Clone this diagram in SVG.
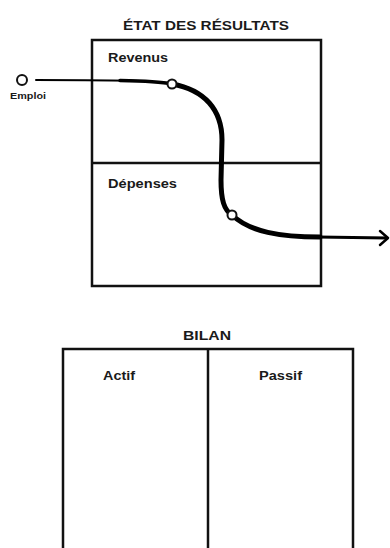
<svg xmlns="http://www.w3.org/2000/svg" width="390" height="548" viewBox="0 0 390 548">
<style>
.box{fill:none;stroke:#111;stroke-width:2.5}
.t{font-family:"Liberation Sans",Arial,sans-serif;font-weight:bold;fill:#1a1a1a}
.flow{fill:none;stroke:#000;stroke-linecap:round;stroke-linejoin:round}
.pt{fill:#fff;stroke:#111;stroke-width:2}
</style>
<rect width="390" height="548" fill="#fff"/>
<g id="etat">
<text class="t" x="206" y="30" font-size="12.5" text-anchor="middle" textLength="166" lengthAdjust="spacingAndGlyphs">ÉTAT DES RÉSULTATS</text>
<rect class="box" x="92" y="40" width="229" height="246"/>
<line class="box" x1="92" y1="163" x2="321" y2="163"/>
</g>
<g id="revenus"><text class="t" x="108" y="62" font-size="12" textLength="60" lengthAdjust="spacingAndGlyphs">Revenus</text></g>
<g id="depenses"><text class="t" x="108" y="188" font-size="12" textLength="69" lengthAdjust="spacingAndGlyphs">Dépenses</text></g>
<g id="bilan">
<text class="t" x="207" y="340" font-size="12.5" text-anchor="middle" textLength="48" lengthAdjust="spacingAndGlyphs">BILAN</text>
<polyline class="box" points="63,548 63,349 353,349 353,548"/>
<line class="box" x1="208" y1="349" x2="208" y2="548"/>
</g>
<g id="actif"><text class="t" x="103" y="380" font-size="12" textLength="32" lengthAdjust="spacingAndGlyphs">Actif</text></g>
<g id="passif"><text class="t" x="259" y="380" font-size="12" textLength="43" lengthAdjust="spacingAndGlyphs">Passif</text></g>
<g id="connectors">
<path class="flow" stroke-width="2" d="M36,80 C 70,80 110,80 140,81"/>
<path class="flow" stroke-width="3.5" d="M120,80.5 C 145,81 162,82 172,84"/>
<path class="flow" stroke-width="5" d="M172,84 C 205,90 222,110 222,140 L 221,180 C 221,200 224,210 232,215 C 250,232 280,237 320,237"/>
<path class="flow" stroke-width="3" d="M318,237 L 387,238"/>
<path class="flow" stroke-width="2.5" d="M380,231 L 388,238 L 380,245"/>
</g>
<g id="emploi">
<circle class="pt" cx="22" cy="80" r="5"/>
<text class="t" x="28" y="99" font-size="9" text-anchor="middle" textLength="36" lengthAdjust="spacingAndGlyphs">Emploi</text>
</g>
<g id="p1"><circle class="pt" cx="172" cy="84" r="4.5"/></g>
<g id="p2"><circle class="pt" cx="232" cy="215" r="4.5"/></g>
</svg>
